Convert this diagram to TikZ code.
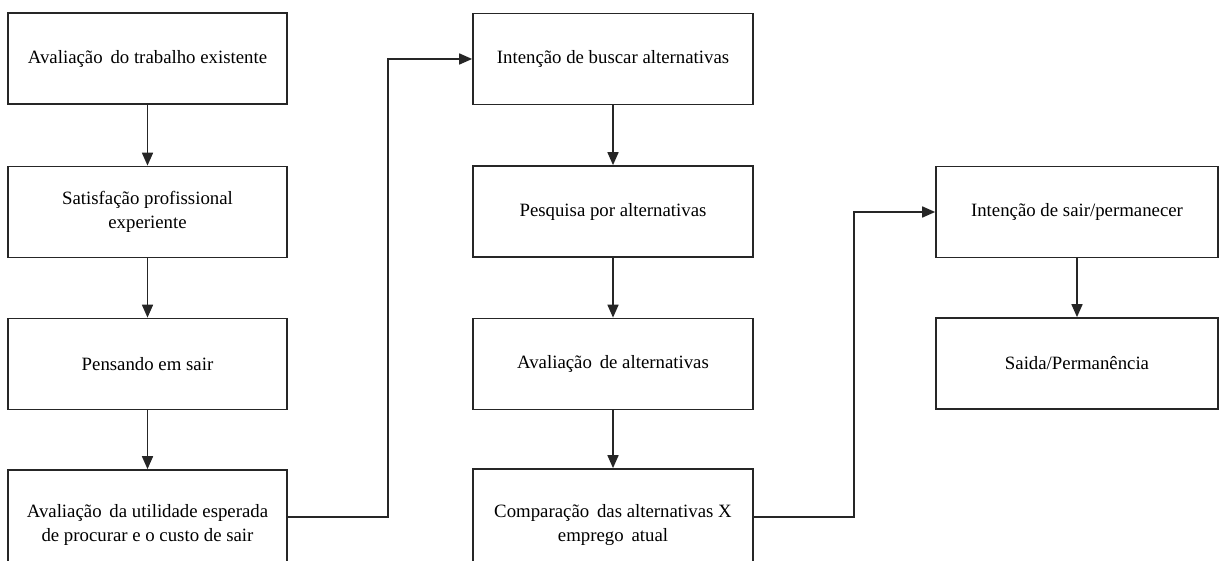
\documentclass[tikz,border=0pt]{standalone}
\usepackage{fontspec}
\setmainfont{Liberation Serif}
\usetikzlibrary{arrows.meta,calc}
\begin{document}
\begin{tikzpicture}[x=1pt,y=-1pt,
  box/.style={draw=black!85,line width=1.7pt,rectangle,inner sep=0pt,
    minimum height=91pt,align=center,font=\fontsize{18.8}{24}\selectfont},
  c1/.style={box,minimum width=279pt},
  c2/.style={box,minimum width=280pt},
  c3/.style={box,minimum width=282pt},
  arr/.style={draw=black!85,line width=1.7pt,-{Triangle[length=13pt,width=11pt]}}]
\useasboundingbox (0,0) rectangle (1219,561);
\clip (0,0) rectangle (1219,561);
% column 1
\node[c1] (b1) at (147.5,58.5) {Avaliação\, do trabalho existente};
\node[c1] (b2) at (147.5,212) {Satisfação profissional\\experiente};
\node[c1] (b3) at (147.5,364) {Pensando em sair};
\node[c1,minimum height=110pt] (b4) at (147.5,525) {Avaliação\, da utilidade esperada\\de procurar e o custo de sair};
% column 2
\node[c2] (b5) at (613,59) {Intenção de buscar alternativas};
\node[c2] (b6) at (613,211.5) {Pesquisa por alternativas};
\node[c2] (b7) at (613,364) {Avaliação\, de alternativas};
\node[c2,minimum height=112pt] (b8) at (613,525) {Comparação\, das alternativas X\\emprego\, atual};
% column 3
\node[c3] (b9) at (1077,212) {Intenção de sair/permanecer};
\node[c3] (b10) at (1077,363.5) {Saida/Permanência};
% arrows
\draw[arr] (b1) -- (b2);
\draw[arr] (b2) -- (b3);
\draw[arr] (b3) -- (b4);
\draw[arr] (b5) -- (b6);
\draw[arr] (b6) -- (b7);
\draw[arr] (b7) -- (b8);
\draw[arr] (b9) -- (b10);
\draw[arr] ([yshift=8pt]b4.east) -- ++(100,0) coordinate (k1) |- (b5.west);
\draw[arr] ([yshift=8pt]b8.east) -- ++(100,0) coordinate (k2) |- (b9.west);
\end{tikzpicture}
\end{document}
